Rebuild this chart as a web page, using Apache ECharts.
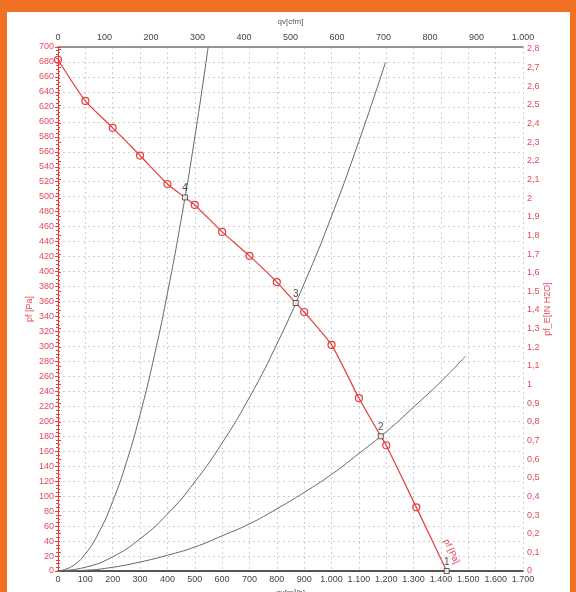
<!DOCTYPE html>
<html><head><meta charset="utf-8">
<script src="https://cdn.jsdelivr.net/npm/echarts@6/dist/echarts.min.js"></script>
<style>
html,body{margin:0;padding:0;background:#f07024;}
#card{position:absolute;left:7px;top:12px;width:563px;height:600px;background:#fff;}
#c{position:absolute;left:0;top:0;width:576px;height:592px;}
</style></head>
<body><div id="card"></div><div id="c"></div>
<script>
// Fan curve pf [Pa] vs qv [m3/h]
const qRed = [0,100,200,300,400,464,500,600,700,800,869,900,1000,1100,1180,1200,1310,1421];
const pRed = [683,628,592,555,517,499,489,453,421,386,358,346,302,231,180,168,85,0];
// operating points
const opQ = [1421,1180,869,464];
const opP = [0,180,358,499];
const opLabels = ['1','2','3','4'];
// system curves
const sys4Q = [0,50,100,150,200,250,300,350,400,450,500,549];
const sys4P = [0,6,23,52,93,145,209,284,371,469,579,700];
const sys3Q = [0,100,200,300,400,500,600,700,800,900,1000,1100,1197];
const sys3P = [0,5,19,43,76,119,171,232,303,384,474,574,679];
const sys2Q = [0,100,200,300,400,500,600,700,800,900,1000,1100,1200,1300,1400,1490];
const sys2P = [0,1,5,12,21,32,47,63,83,105,129,157,186,219,253,287];
const curveLabel = 'pf [Pa]';
const curveLabelAt = [1438, 26];

const PA_PER_INH2O = 249.089;
const RED = '#e63c3c';
const RED_T = '#e8475a';
const FONT = 'Liberation Sans, Arial, sans-serif';

function thou(v){ v=Math.round(v); if(v>=1000){return Math.floor(v/1000)+'.'+String(v%1000).padStart(3,'0');} return String(v); }
function zip(a,b){ return a.map((x,i)=>[x,b[i]]); }

const redData = qRed.map((q,i)=>{
  const isOp = opQ.indexOf(q) >= 0;
  return isOp ? {value:[q,pRed[i]], symbol:'none'} : [q,pRed[i]];
});

const chart = echarts.init(document.getElementById('c'), null, {renderer:'canvas'});
chart.setOption({
  animation:false,
  backgroundColor:'transparent',
  grid:{left:58, right:53, top:47, bottom:21, containLabel:false, outerBoundsMode:'none'},
  xAxis:[
    {type:'value', position:'bottom', min:0, max:1700, interval:100,
     name:'qv[m³/h]', nameLocation:'middle', nameGap:17,
     nameTextStyle:{color:'#555', fontSize:8, fontFamily:FONT},
     axisLine:{show:true, lineStyle:{color:'#222', width:1.5}},
     axisTick:{show:false},
     axisLabel:{color:'#444', fontSize:9, fontFamily:FONT, margin:4, formatter:thou},
     splitLine:{show:true, lineStyle:{color:'#cfcfcf', type:[2,3], width:1}}},
    {type:'value', position:'top', min:0, max:1000, interval:100,
     name:'qv[cfm]', nameLocation:'middle', nameGap:21,
     nameTextStyle:{color:'#555', fontSize:8, fontFamily:FONT},
     axisLine:{show:true, onZero:false, lineStyle:{color:'#777', width:1.5}},
     axisTick:{show:false},
     axisLabel:{color:'#444', fontSize:9, fontFamily:FONT, margin:5, formatter:thou},
     splitLine:{show:false}}
  ],
  yAxis:[
    {type:'value', position:'left', min:0, max:700, interval:20,
     name:'pf [Pa]', nameLocation:'middle', nameGap:24, nameRotate:90, nameMoveOverlap:false,
     nameTextStyle:{color:RED_T, fontSize:9, fontFamily:FONT},
     axisLine:{show:true, lineStyle:{color:RED, width:1}},
     axisTick:{show:true, length:3, lineStyle:{color:RED}},
     minorTick:{show:true, splitNumber:4, length:2, lineStyle:{color:RED}},
     axisLabel:{color:RED_T, fontSize:9, fontFamily:FONT, margin:4},
     splitLine:{show:true, lineStyle:{color:'#cfcfcf', type:[2,3], width:1}}},
    {type:'value', position:'right', min:0, max:700/PA_PER_INH2O, interval:0.1,
     name:'pf_E[IN H2O]', nameLocation:'middle', nameGap:20, nameRotate:90, nameMoveOverlap:false,
     nameTextStyle:{color:RED_T, fontSize:9, fontFamily:FONT},
     axisLine:{show:true, lineStyle:{color:RED, width:1}},
     axisTick:{show:true, length:3, lineStyle:{color:RED}},
     minorTick:{show:true, splitNumber:5, length:2, lineStyle:{color:RED}},
     axisLabel:{color:RED_T, fontSize:9, fontFamily:FONT, margin:4, showMaxLabel:false,
       formatter:v=>String(+v.toFixed(1)).replace('.',',')},
     splitLine:{show:false}}
  ],
  series:[
    {type:'line', data:zip(sys4Q,sys4P), smooth:true, showSymbol:false, xAxisIndex:0, yAxisIndex:0,
     lineStyle:{color:'#666', width:1}, z:2},
    {type:'line', data:zip(sys3Q,sys3P), smooth:true, showSymbol:false,
     lineStyle:{color:'#666', width:1}, z:2},
    {type:'line', data:zip(sys2Q,sys2P), smooth:true, showSymbol:false,
     lineStyle:{color:'#666', width:1}, z:2},
    {type:'line', data:redData, smooth:0.2, symbol:'circle', symbolSize:7, showSymbol:true,
     lineStyle:{color:RED, width:1.2},
     itemStyle:{color:'rgba(255,255,255,0)', borderColor:RED, borderWidth:1.2}, z:3,
     markPoint:{symbol:'rect', symbolSize:1, silent:true,
       itemStyle:{color:'rgba(0,0,0,0)', borderWidth:0},
       label:{show:true, position:'inside', formatter:curveLabel, rotate:-65, color:RED_T, fontSize:9, fontFamily:FONT},
       data:[{coord:curveLabelAt, name:'curve'}]}},
    {type:'scatter', data:zip(opQ,opP), symbol:'rect', symbolSize:5,
     itemStyle:{color:'#fff', borderColor:'#333', borderWidth:1}, z:5,
     label:{show:true, position:'top', distance:1, color:'#222', fontSize:10, fontFamily:FONT,
       formatter:p=>opLabels[p.dataIndex]}}
  ]
});
</script></body></html>
